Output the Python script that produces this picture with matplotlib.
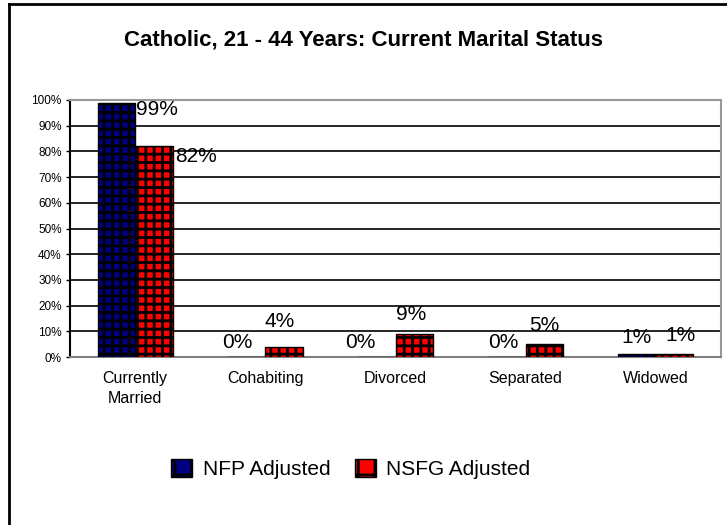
import matplotlib
matplotlib.use('Agg')
import matplotlib.pyplot as plt
import matplotlib.patches as mpatches
from matplotlib.lines import Line2D
import numpy as np

plt.rcParams['font.family'] = ['Liberation Sans', 'DejaVu Sans']
plt.rcParams['hatch.color'] = 'white'
plt.rcParams['hatch.linewidth'] = 2.0

categories = ['Currently\nMarried', 'Cohabiting', 'Divorced', 'Separated', 'Widowed']
nfp_values = [99, 0, 0, 0, 1]
nsfg_values = [82, 4, 9, 5, 1]
series_names = ['NFP Adjusted', 'NSFG Adjusted']
title = 'Catholic, 21 - 44 Years: Current Marital Status'

# label offsets in pixels (dx, dy) relative to bar top centre, as placed in the original
nfp_offsets = [(41, -7), (-9, 15), (-16, 15), (-4, 15), (-1, 17)]
nsfg_offsets = [(42, -10), (-4, 25), (-3, 19), (0, 19), (6, 19)]

W, H = 727, 525
fig = plt.figure(figsize=(W / 100, H / 100), dpi=100)
ax = fig.add_axes([70 / W, 1 - 357 / H, 651 / W, 257 / H])

x = np.arange(len(categories))
bw = 0.288
colors = ['#000080', '#ff0000']

for vals, col, sign, offs in [(nfp_values, colors[0], -1, nfp_offsets),
                              (nsfg_values, colors[1], 1, nsfg_offsets)]:
    xs = x + sign * bw / 2
    ax.bar(xs, vals, width=bw, color=col, edgecolor='black', linewidth=1.0,
           hatch='++', zorder=3)
    for xi, v, (dx, dy) in zip(xs, vals, offs):
        ax.annotate(f'{v}%', (xi, v), xytext=(dx * 0.72, -dy * 0.72 * -1),
                    textcoords='offset points', ha='center', va='center',
                    fontsize=15, zorder=4)

ax.set_xlim(-0.5, len(categories) - 0.5)
ax.set_ylim(0, 100)
ax.set_yticks(range(0, 101, 10))
ax.set_yticklabels([f'{t}%' for t in range(0, 101, 10)], fontsize=8.5)
ax.set_xticks(x)
ax.set_xticklabels(categories, fontsize=11.5, linespacing=1.45)
ax.tick_params(axis='x', length=0, pad=10)
ax.tick_params(axis='y', length=3, width=1, direction='out', pad=3)
ax.yaxis.grid(True, color='black', linewidth=1.2, zorder=0)
ax.set_axisbelow(True)

for s in ['top', 'right']:
    ax.spines[s].set_color('#999999')
    ax.spines[s].set_linewidth(1.5)
ax.spines['left'].set_linewidth(1.5)
ax.spines['bottom'].set_color('#808080')
ax.spines['bottom'].set_linewidth(1.5)

fig.text(363 / W, 1 - 40 / H, title, ha='center', va='center',
         fontsize=16, fontweight='bold')

handles = [mpatches.Patch(facecolor=c, edgecolor='black', hatch='+', label=n)
           for c, n in zip(colors, series_names)]
fig.legend(handles=handles, loc='center', bbox_to_anchor=(351 / W, 1 - 469 / H),
           ncol=2, frameon=False, fontsize=15, handlelength=1.0,
           handleheight=1.0, columnspacing=1.2, handletextpad=0.5)

# outer chart frame (left and top edges visible)
fig.add_artist(Line2D([9 / W, 9 / W], [0, 1 - 4 / H], color='black', linewidth=2,
                      transform=fig.transFigure))
fig.add_artist(Line2D([9 / W, 1], [1 - 4 / H, 1 - 4 / H], color='black', linewidth=2,
                      transform=fig.transFigure))

fig.savefig('out.png', dpi=100)
